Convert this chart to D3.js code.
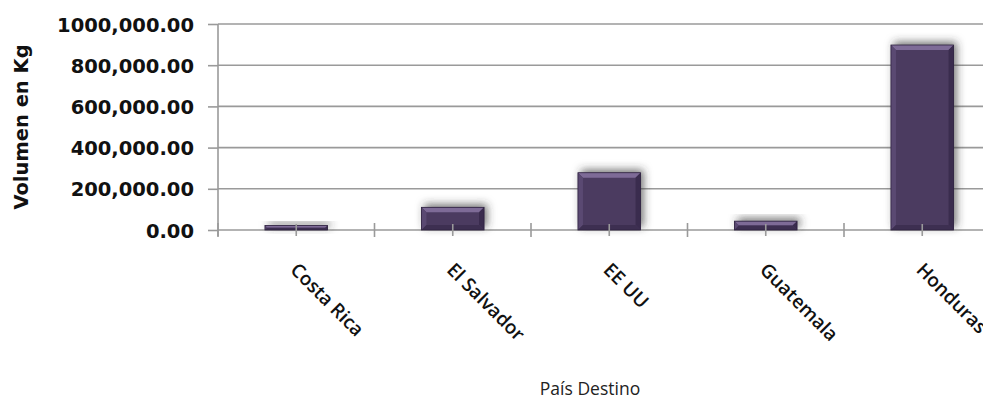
<!DOCTYPE html>
<html><head><meta charset="utf-8">
<script src="https://cdn.jsdelivr.net/npm/d3@7/dist/d3.min.js"></script>
<style>html,body{margin:0;padding:0;background:#fff;overflow:hidden}</style>
</head><body>
<svg id="c" width="983" height="401"></svg>
<script>
const categories = ["Costa Rica", "El Salvador", "EE UU", "Guatemala", "Honduras"];
const values = [22000, 110000, 278000, 43000, 898000];
const yTicks = [0, 200000, 400000, 600000, 800000, 1000000];
const yTickLabels = ["0.00", "200,000.00", "400,000.00", "600,000.00", "800,000.00", "1000,000.00"];
const yTitle = "Volumen en Kg";
const xTitle = "País Destino";

const svg = d3.select("#c");
const x0 = 218, x1 = 1000.5, yTop = 24, yBot = 230;
const x = d3.scaleBand().domain(categories).range([x0, x1]).paddingInner(0.6).paddingOuter(0.3);
const y = d3.scaleLinear().domain([0, 1000000]).range([yBot, yTop]);
const gridColor = "#9a9a9a";

const defs = svg.append("defs");
const f = defs.append("filter").attr("id", "sh").attr("x", "-30%").attr("y", "-80%").attr("width", "160%").attr("height", "260%");
f.append("feDropShadow").attr("dx", 3).attr("dy", -3).attr("stdDeviation", 4).attr("flood-color", "#333").attr("flood-opacity", 0.7);

// gridlines
svg.append("g").selectAll("line").data(yTicks).join("line")
  .attr("x1", x0).attr("x2", 983).attr("y1", d => y(d)).attr("y2", d => y(d))
  .attr("stroke", gridColor).attr("stroke-width", 1.6);

// y axis
const yAxis = d3.axisLeft(y).tickValues(yTicks).tickSize(10).tickFormat((d, i) => yTickLabels[i]);
const ga = svg.append("g").attr("transform", `translate(${x0},0)`).call(yAxis);
ga.select(".domain").remove();
ga.selectAll(".tick line").attr("stroke", gridColor).attr("stroke-width", 1.6);
ga.selectAll(".tick text").attr("x", -24).attr("dy", "0.36em")
  .attr("font-family", "DejaVu Sans").attr("font-weight", "bold").attr("font-size", 19.5).attr("fill", "#111");
svg.append("line").attr("x1", x0).attr("x2", x0).attr("y1", yTop).attr("y2", 236)
  .attr("stroke", gridColor).attr("stroke-width", 1.6);

// bars
const bars = svg.append("g").selectAll("g").data(categories).join("g");
bars.each(function (c, i) {
  const g = d3.select(this);
  const bx = x(c), bw = x.bandwidth(), by = y(values[i]), bh = yBot - by;
  const b = Math.min(5, bh / 2, bw / 2);
  g.append("rect").attr("x", bx).attr("y", by).attr("width", bw).attr("height", bh)
    .attr("fill", "#4b3b61").attr("filter", "url(#sh)");
  g.append("path").attr("d", `M${bx},${by}L${bx + bw},${by}L${bx + bw - b},${by + b}L${bx + b},${by + b}Z`).attr("fill", "#7e6b97");
  g.append("path").attr("d", `M${bx},${by}L${bx + b},${by + b}L${bx + b},${by + bh - b}L${bx},${by + bh}Z`).attr("fill", "#5a4972");
  g.append("path").attr("d", `M${bx + bw},${by}L${bx + bw - b},${by + b}L${bx + bw - b},${by + bh - b}L${bx + bw},${by + bh}Z`).attr("fill", "#3a2c4e");
  g.append("path").attr("d", `M${bx},${by + bh}L${bx + b},${by + bh - b}L${bx + bw - b},${by + bh - b}L${bx + bw},${by + bh}Z`).attr("fill", "#3d2f51");
  g.append("rect").attr("x", bx).attr("y", by).attr("width", bw).attr("height", bh)
    .attr("fill", "none").attr("stroke", "#2e2240").attr("stroke-width", 0.8);
});

// x axis ticks
const step = x.step();
const bounds = d3.range(categories.length + 1).map(i => x0 + i * step);
svg.append("g").selectAll("line").data(bounds).join("line")
  .attr("x1", d => d).attr("x2", d => d).attr("y1", yBot - 7).attr("y2", yBot + 7)
  .attr("stroke", gridColor).attr("stroke-width", 1.6);
svg.append("g").selectAll("line").data(categories).join("line")
  .attr("x1", d => x(d) + x.bandwidth() / 2).attr("x2", d => x(d) + x.bandwidth() / 2)
  .attr("y1", yBot - 6).attr("y2", yBot + 6)
  .attr("stroke", gridColor).attr("stroke-width", 1.6);

// x labels
svg.append("g").selectAll("text").data(categories).join("text")
  .attr("transform", d => `translate(${x(d) + x.bandwidth() / 2 - 7},${271}) rotate(45)`)
  .attr("font-family", "Open Sans").attr("font-weight", 600).attr("font-size", 19).attr("fill", "#111")
  .text(d => d);

// titles
svg.append("text").attr("transform", "translate(28,127) rotate(-90)").attr("text-anchor", "middle")
  .attr("font-family", "DejaVu Sans").attr("font-weight", "bold").attr("font-size", 19.5).attr("fill", "#111")
  .text(yTitle);
svg.append("text").attr("x", 590).attr("y", 395).attr("text-anchor", "middle")
  .attr("font-family", "Open Sans").attr("font-size", 17.5).attr("fill", "#222")
  .text(xTitle);
</script>
</body></html>
